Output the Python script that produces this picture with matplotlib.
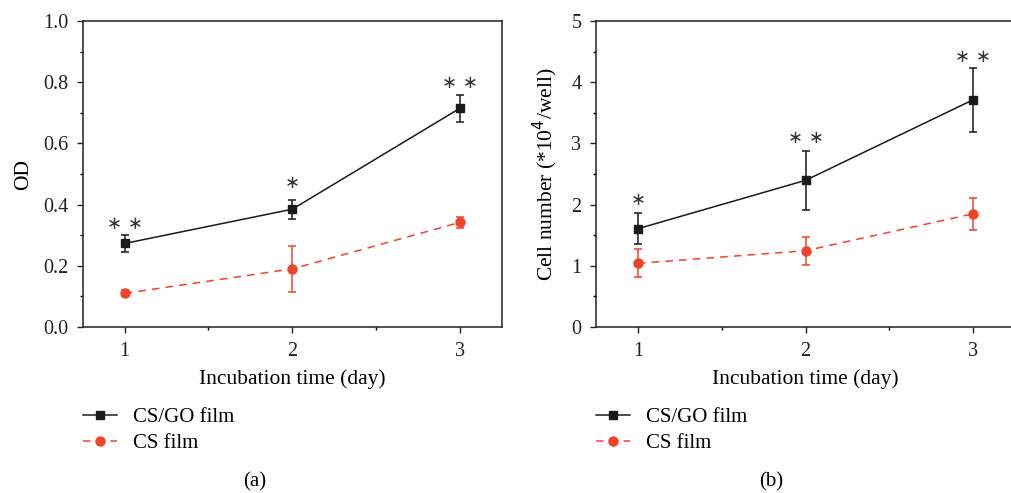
import matplotlib
matplotlib.use('Agg')
import matplotlib.pyplot as plt
from matplotlib.ticker import MultipleLocator

plt.rcParams['font.family'] = ['Liberation Serif', 'DejaVu Serif']
plt.rcParams['font.size'] = 15.5

days = [1, 2, 3]

# panel (a): OD
od_csgo = [0.273, 0.385, 0.715]
od_csgo_err = [0.029, 0.031, 0.044]
od_cs = [0.110, 0.190, 0.342]
od_cs_err = [0.010, 0.075, 0.017]
od_stars = ['**', '*', '**']
od_star_y = [0.337, 0.47, 0.796]

# panel (b): cell number
cell_csgo = [1.606, 2.397, 3.714]
cell_csgo_err = [0.25, 0.48, 0.52]
cell_cs = [1.04, 1.247, 1.851]
cell_cs_err = [0.23, 0.23, 0.26]
cell_stars = ['*', '**', '**']
cell_star_y = [2.08, 3.09, 4.41]

BLACK = '#1a1a1a'
RED = '#f0432a'

fig = plt.figure(figsize=(10.11, 4.93), dpi=100)
ax_a = fig.add_axes([0.0818, 0.3367, 0.4147, 0.6207])
ax_b = fig.add_axes([0.5895, 0.3367, 0.4147, 0.6207])


def draw_panel(ax, csgo, csgo_err, cs, cs_err, stars, star_y):
    ax.errorbar(days, csgo, yerr=csgo_err, color=BLACK, lw=1.1, marker='s',
                ms=5.5, capsize=3, elinewidth=1.1, capthick=1.1,
                label='CS/GO film', zorder=3)
    ax.errorbar(days, cs, yerr=cs_err, color=RED, lw=1.1, ls=(0, (5, 4)),
                marker='o', ms=6.5, capsize=3, elinewidth=1.1, capthick=1.1,
                label='CS film', zorder=3)
    for d, s, y in zip(days, stars, star_y):
        ax.text(d, y, ' '.join('\u2217' * len(s)), ha='center', va='center',
                fontsize=13, color='#333333', family='DejaVu Sans')
    ax.set_xlim(0.75, 3.25)
    ax.set_xticks(days)
    ax.xaxis.set_minor_locator(MultipleLocator(0.5))
    ax.set_xlabel('Incubation time (day)', labelpad=6)
    ax.tick_params(which='major', direction='out', length=4.5, width=1,
                   pad=6, colors='#222222')
    ax.tick_params(which='minor', direction='out', length=2.2, width=1)
    ax.tick_params(axis='both', labelsize=14.5)
    for sp in ax.spines.values():
        sp.set_linewidth(1.1)
        sp.set_color('#222222')


draw_panel(ax_a, od_csgo, od_csgo_err, od_cs, od_cs_err, od_stars, od_star_y)
ax_a.set_ylim(0, 1.0)
ax_a.yaxis.set_major_locator(MultipleLocator(0.2))
ax_a.yaxis.set_minor_locator(MultipleLocator(0.1))
ax_a.yaxis.set_major_formatter(matplotlib.ticker.FormatStrFormatter('%.1f'))
ax_a.set_ylabel('OD', labelpad=7)

draw_panel(ax_b, cell_csgo, cell_csgo_err, cell_cs, cell_cs_err, cell_stars, cell_star_y)
ax_b.set_ylim(0, 5)
ax_b.yaxis.set_major_locator(MultipleLocator(1))
ax_b.yaxis.set_minor_locator(MultipleLocator(0.5))
ax_b.set_ylabel('Cell number (*10$^4$/well)', labelpad=8)

for ax, x0 in [(ax_a, 0.0818), (ax_b, 0.5895)]:
    h, l = ax.get_legend_handles_labels()
    h = [hh[0] for hh in h]
    fig.legend(h, l, loc='upper left', bbox_to_anchor=(x0, 0.173),
               frameon=False, borderpad=0, borderaxespad=0, handlelength=1.65,
               handletextpad=0.75, labelspacing=0.3, fontsize=15)

fig.text(0.252, 0.022, '(a)', ha='center', va='center', fontsize=15)
fig.text(0.763, 0.022, '(b)', ha='center', va='center', fontsize=15)

fig.savefig('out.png', dpi=100)
